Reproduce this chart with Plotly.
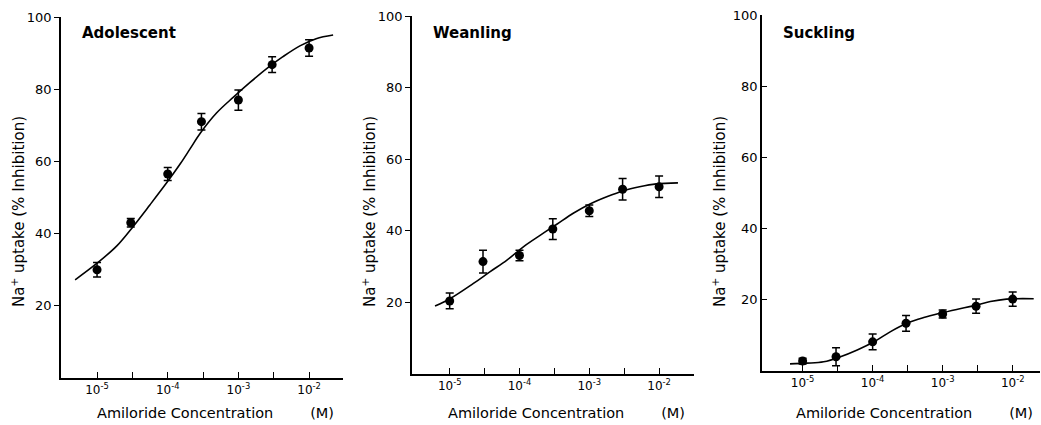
import plotly.graph_objects as go

# ---------------- data ----------------
conc = [1e-5, 3e-5, 1e-4, 3e-4, 1e-3, 3e-3, 1e-2]

adol_y = [30.0, 43.0, 56.5, 71.0, 77.0, 86.8, 91.4]
adol_err = [2.0, 1.2, 1.8, 2.3, 2.8, 2.2, 2.3]
adol_curve_x = [10**v for v in [-5.31, -5.0, -4.72, -4.48, -4.25, -4.01, -3.82, -3.68,
                                -3.54, -3.31, -3.07, -2.84, -2.60, -2.37, -2.13, -1.90, -1.66]]
adol_curve_y = [27.2, 31.8, 36.6, 42.2, 48.0, 54.2, 59.4, 63.6, 67.8, 73.4, 77.8, 81.8,
                85.7, 89.0, 92.0, 94.0, 95.0]

wean_y = [20.4, 31.4, 33.1, 40.5, 45.6, 51.6, 52.3]
wean_err = [2.2, 3.2, 1.5, 2.9, 1.6, 3.0, 3.0]
wean_curve_x = [10**v for v in [-5.21, -4.99, -4.66, -4.42, -4.18, -3.94, -3.70, -3.46,
                                -3.23, -2.99, -2.75, -2.51, -2.28, -2.04, -1.73]]
wean_curve_y = [19.0, 21.1, 25.3, 28.6, 31.8, 35.6, 38.8, 41.9, 44.9, 47.5, 49.5,
                51.2, 52.3, 53.1, 53.4]

suck_y = [2.8, 4.0, 8.2, 13.4, 16.0, 18.2, 20.2]
suck_err = [0.8, 2.5, 2.2, 2.2, 1.1, 2.0, 2.0]
suck_curve_x = [10**v for v in [-5.18, -4.94, -4.70, -4.46, -4.22, -3.98, -3.75, -3.51,
                                -3.27, -3.04, -2.80, -2.56, -2.32, -2.09, -1.70]]
suck_curve_y = [2.0, 2.2, 2.6, 4.0, 5.9, 8.2, 11.0, 13.4, 15.0, 16.2, 17.3, 18.3,
                19.5, 20.2, 20.3]

panel_names = ["Adolescent", "Weanling", "Suckling"]
x_tick_vals = [1e-5, 1e-4, 1e-3, 1e-2]
x_tick_text = ["10<sup>-5</sup>", "10<sup>-4</sup>", "10<sup>-3</sup>", "10<sup>-2</sup>"]
x_minor_vals = [3.162e-5, 3.162e-4, 3.162e-3]
y_tick_vals = [20, 40, 60, 80, 100]
y_tick_text = ["20", "40", "60", "80", "100"]
x_title = "Amiloride Concentration" + "\u00a0" * 8 + "(M)"
y_title = "Na<sup>+</sup> uptake (% Inhibition)"

W, H = 1041, 425
FONT = "DejaVu Sans"

# pixel geometry of each panel: (x_left, x_right, y_bottom(0), y_top(100)), log x-range
geom = [
    (61, 343, 378, 17, [-5.51, -1.52], "outside"),
    (412, 694, 374, 16, [-5.54, -1.50], "outside"),
    (762, 1040, 371, 15, [-5.58, -1.61], "inside"),
]

series = [
    (adol_y, adol_err, adol_curve_x, adol_curve_y),
    (wean_y, wean_err, wean_curve_x, wean_curve_y),
    (suck_y, suck_err, suck_curve_x, suck_curve_y),
]

fig = go.Figure()
layout = {}
annotations = []

for i, ((xl, xr, yb, yt, xr_range, yticks), (py, pe, cx, cy)) in enumerate(zip(geom, series)):
    n = "" if i == 0 else str(i + 1)
    xa, ya = "x" + n, "y" + n
    fig.add_trace(go.Scatter(x=cx, y=cy, mode="lines",
                             line=dict(color="black", width=1.6, shape="spline", smoothing=1.0),
                             xaxis=xa, yaxis=ya, showlegend=False, hoverinfo="skip"))
    fig.add_trace(go.Scatter(x=conc, y=py, mode="markers",
                             marker=dict(color="black", size=9),
                             error_y=dict(type="data", array=pe, color="black", thickness=1.5, width=4),
                             xaxis=xa, yaxis=ya, showlegend=False))
    layout["xaxis" + n] = dict(
        type="log", range=xr_range, domain=[xl / W, xr / W], anchor=ya,
        showline=True, linecolor="black", linewidth=1.6, showgrid=False, zeroline=False,
        ticks="inside", ticklen=6, tickwidth=1.4, tickcolor="black",
        tickvals=x_tick_vals, ticktext=x_tick_text,
        minor=dict(tickvals=x_minor_vals, ticks="inside", ticklen=6, tickwidth=1.4,
                   tickcolor="black", showgrid=False),
        tickfont=dict(family=FONT, size=12, color="black"), automargin=False,
    )
    layout["yaxis" + n] = dict(
        range=[0, 100], domain=[1 - yb / H, 1 - yt / H], anchor=xa,
        showline=True, linecolor="black", linewidth=1.6, showgrid=False, zeroline=False,
        ticks=yticks, ticklen=5, tickwidth=1.4, tickcolor="black",
        tickvals=y_tick_vals, ticktext=y_tick_text,
        tickfont=dict(family=FONT, size=13, color="black"), automargin=False,
    )
    # panel label
    annotations.append(dict(x=(xl + 19) / W, y=1 - 33 / H, xref="paper", yref="paper",
                            text="<b>" + panel_names[i] + "</b>", showarrow=False,
                            xanchor="left", yanchor="middle",
                            font=dict(family=FONT, size=15, color="black")))
    # x title
    annotations.append(dict(x=(xl + xr) / 2 / W + 13 / W, y=1 - 413 / H, xref="paper", yref="paper",
                            text=x_title, showarrow=False, xanchor="center", yanchor="middle",
                            font=dict(family=FONT, size=14.5, color="black")))
    # y title
    annotations.append(dict(x=(xl - 43) / W, y=1 - 212 / H, xref="paper", yref="paper",
                            text=y_title, showarrow=False, textangle=-90,
                            xanchor="center", yanchor="middle",
                            font=dict(family=FONT, size=15, color="black")))

fig.update_layout(
    width=W, height=H, margin=dict(l=0, r=0, t=0, b=0),
    paper_bgcolor="white", plot_bgcolor="white",
    annotations=annotations, **layout,
)

fig.write_html("out.html")
